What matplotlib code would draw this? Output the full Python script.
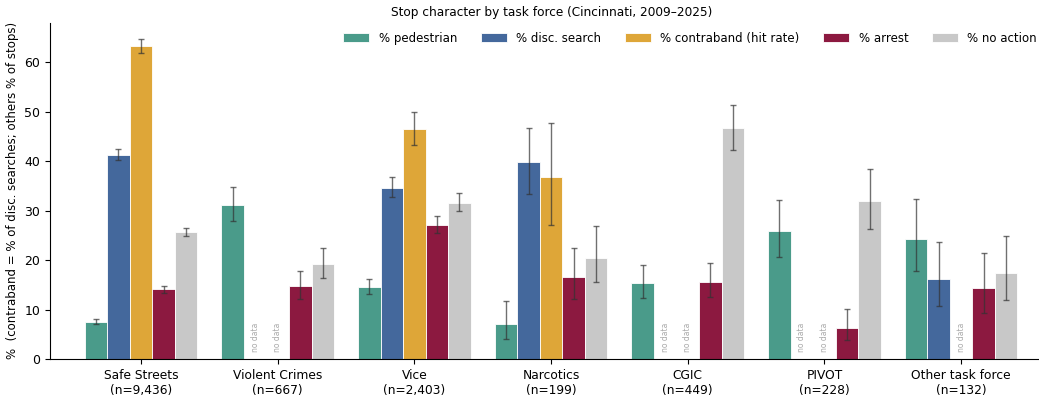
import numpy as np
import matplotlib
matplotlib.use("Agg")
import matplotlib.pyplot as plt

# Task forces and stop counts
task_forces = ["Safe Streets", "Violent Crimes", "Vice", "Narcotics", "CGIC", "PIVOT", "Other task force"]
n_stops = ["9,436", "667", "2,403", "199", "449", "228", "132"]

series_names = ["% pedestrian", "% disc. search", "% contraband (hit rate)", "% arrest", "% no action"]
series_colors = ["#4a9b8a", "#44689c", "#dea638", "#8c1940", "#c8c8c8"]

# values (NaN = no data)
pct_pedestrian = [7.4, 31.1, 14.5, 7.0, 15.4, 25.9, 24.2]
pct_disc_search = [41.2, np.nan, 34.6, 39.9, np.nan, np.nan, 16.1]
pct_contraband = [63.3, np.nan, 46.5, 36.7, np.nan, np.nan, np.nan]
pct_arrest = [14.1, 14.7, 27.1, 16.6, 15.6, 6.2, 14.4]
pct_no_action = [25.7, 19.3, 31.6, 20.5, 46.8, 32.0, 17.4]

# 95% interval bounds
lo_pedestrian = [7.0, 27.9, 13.2, 4.1, 12.4, 20.7, 17.8]
hi_pedestrian = [8.0, 34.8, 16.1, 11.7, 19.1, 32.1, 32.3]
lo_disc_search = [40.3, np.nan, 32.8, 33.3, np.nan, np.nan, 10.7]
hi_disc_search = [42.4, np.nan, 36.7, 46.8, np.nan, np.nan, 23.7]
lo_contraband = [61.8, np.nan, 43.2, 27.1, np.nan, np.nan, np.nan]
hi_contraband = [64.8, np.nan, 50.0, 47.7, np.nan, np.nan, np.nan]
lo_arrest = [13.4, 12.1, 25.5, 12.1, 12.6, 3.8, 9.4]
hi_arrest = [14.8, 17.8, 29.0, 22.4, 19.4, 10.2, 21.5]
lo_no_action = [24.9, 16.4, 29.9, 15.6, 42.2, 26.3, 11.9]
hi_no_action = [26.5, 22.4, 33.5, 26.8, 51.4, 38.4, 24.9]

values = [pct_pedestrian, pct_disc_search, pct_contraband, pct_arrest, pct_no_action]
lows = [lo_pedestrian, lo_disc_search, lo_contraband, lo_arrest, lo_no_action]
highs = [hi_pedestrian, hi_disc_search, hi_contraband, hi_arrest, hi_no_action]

fig = plt.figure(figsize=(10.39, 3.96), dpi=100)
ax = fig.add_axes([50 / 1039, 37 / 396, 1.0 - 50 / 1039, (359 - 22.7) / 396])

x = np.arange(len(task_forces))
w = 0.165
for i, (name, col) in enumerate(zip(series_names, series_colors)):
    v = np.array(values[i], dtype=float)
    lo = np.array(lows[i], dtype=float)
    hi = np.array(highs[i], dtype=float)
    xs = x + (i - 2) * w
    ok = ~np.isnan(v)
    ax.bar(xs[ok], v[ok], w, color=col, edgecolor="white", linewidth=0.6, label=name)
    ax.errorbar(xs[ok], v[ok], yerr=[v[ok] - lo[ok], hi[ok] - v[ok]], fmt="none",
                ecolor="#333333", alpha=0.7, elinewidth=1, capsize=2, capthick=1)
    # missing categories get a small rotated note
    for xi in xs[~ok]:
        ax.text(xi, 1.5, "no data", rotation=90, ha="center", va="bottom",
                fontsize=5.5, color="#aaaaaa")

ax.set_xticks(x)
ax.set_xticklabels([f"{t}\n(n={n})" for t, n in zip(task_forces, n_stops)], fontsize=8.8)
ax.tick_params(axis="y", labelsize=9)
ax.set_xlim(-0.666, 6.57)
ax.set_ylim(0, 68)
ax.set_ylabel("%  (contraband = % of disc. searches; others % of stops)", fontsize=8.5)
ax.spines["top"].set_visible(False)
ax.spines["right"].set_visible(False)
ax.set_title("Stop character by task force (Cincinnati, 2009\u20132025)", fontsize=8.7, pad=4.5, x=0.507)
ax.legend(ncol=5, frameon=False, loc="upper left", bbox_to_anchor=(0.286, 1.005),
          fontsize=8.5, handlelength=2.2, columnspacing=2.0)

fig.savefig("out.png", dpi=100)
